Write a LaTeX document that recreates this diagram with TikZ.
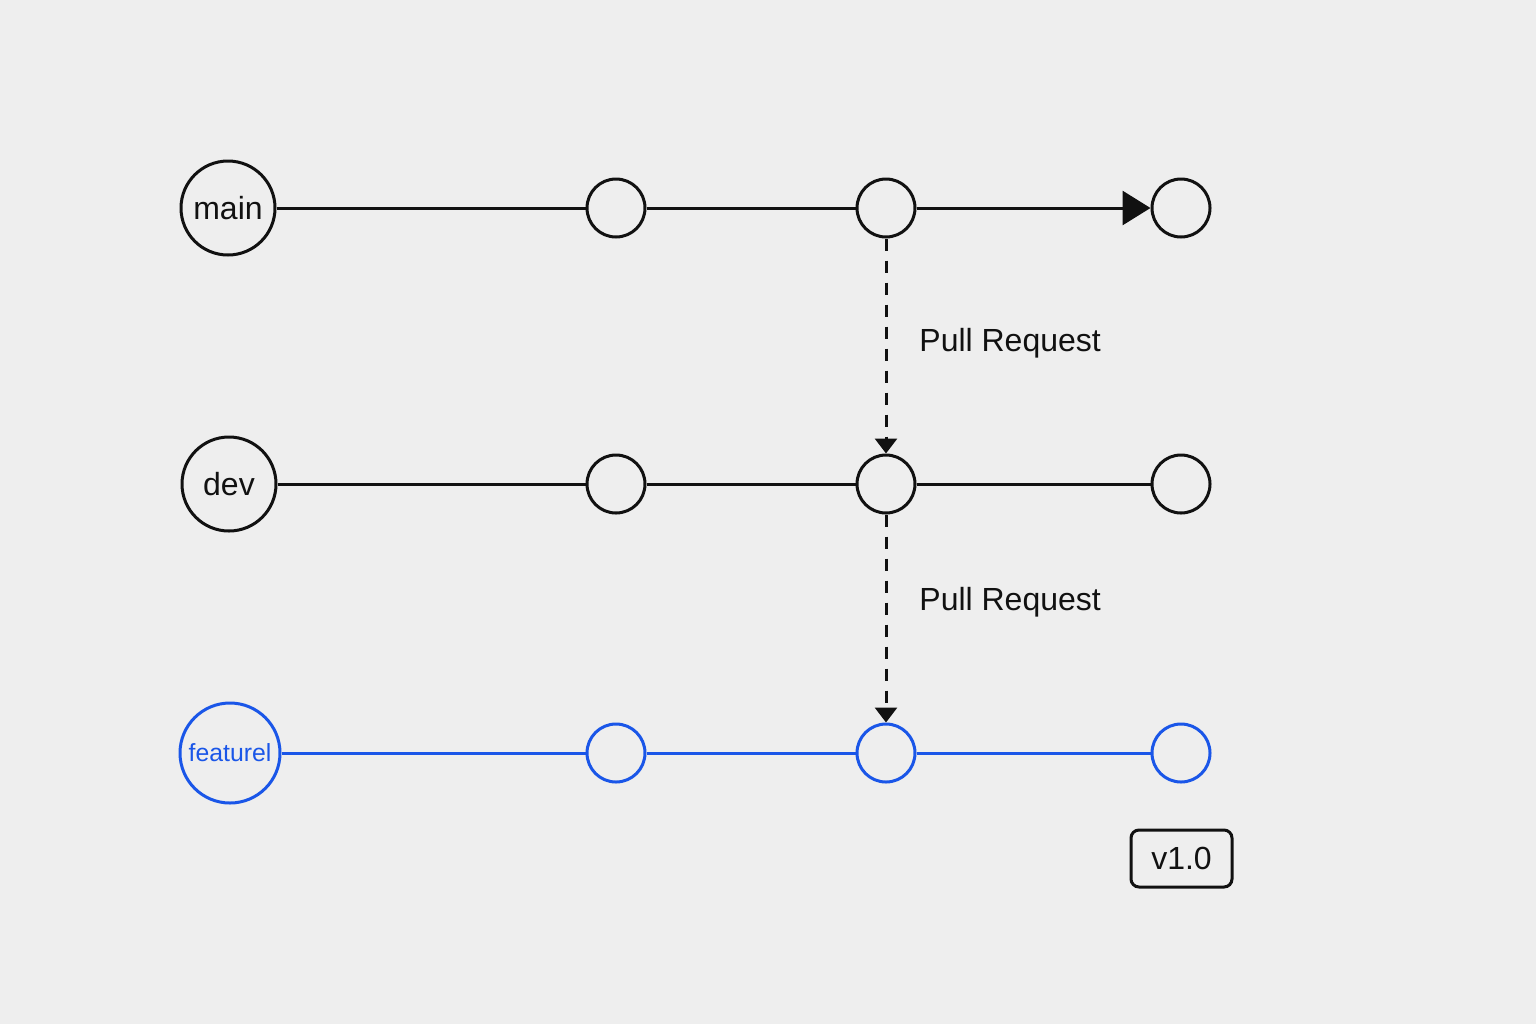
\documentclass[tikz,border=0pt]{standalone}
\usepackage{fontspec}
\setmainfont{Liberation Sans}
\usetikzlibrary{arrows.meta}
\definecolor{bg}{HTML}{EEEEEE}
\definecolor{fblue}{HTML}{1A56E8}
\definecolor{ink}{HTML}{111111}
\tikzset{
  branch/.style={circle,draw=ink,line width=1.5pt,fill=bg,inner sep=0pt,minimum size=47pt,font=\fontsize{16}{18}\selectfont,text=ink},
  commit/.style={circle,draw=ink,line width=1.5pt,fill=bg,inner sep=0pt,minimum size=29pt},
  fbranch/.style={branch,draw=fblue,text=fblue,minimum size=50pt,font=\fontsize{12.4}{14}\selectfont},
  fcommit/.style={commit,draw=fblue},
  link/.style={draw=ink,line width=1.5pt},
  flink/.style={draw=fblue,line width=1.5pt},
  pr/.style={draw=ink,line width=1.5pt,dash pattern=on 6pt off 5pt,-{Triangle[length=7.5pt,width=11pt]}},
  prlabel/.style={anchor=west,inner sep=0pt,font=\fontsize{16}{18}\selectfont,text=ink},
  tagbox/.style={draw=ink,line width=1.5pt,rounded corners=4pt,minimum width=50.5pt,minimum height=28.5pt,inner sep=0pt,font=\fontsize{16}{18}\selectfont,text=ink}
}
\begin{document}
\begin{tikzpicture}[x=0.5pt,y=-0.5pt]
\fill[bg] (0,0) rectangle (1536,1024);
\useasboundingbox (0,0) rectangle (1536,1024);
% main
\node[branch] (main) at (228,208) {main};
\node[commit] (m1) at (616,208) {};
\node[commit] (m2) at (886,208) {};
\node[commit] (m3) at (1181,208) {};
% dev
\node[branch] (dev) at (229,484) {dev};
\node[commit] (d1) at (616,484) {};
\node[commit] (d2) at (886,484) {};
\node[commit] (d3) at (1181,484) {};
% feature
\node[fbranch] (feat) at (230,753) {featurel};
\node[fcommit] (f1) at (616,753) {};
\node[fcommit] (f2) at (886,753) {};
\node[fcommit] (f3) at (1181,753) {};
% links
\draw[link] (main) -- (m1);
\draw[link] (m1) -- (m2);
\draw[link,-{Triangle[length=14pt,width=17pt]}] (m2) -- (m3);
\draw[link] (dev) -- (d1);
\draw[link] (d1) -- (d2);
\draw[link] (d2) -- (d3);
\draw[flink] (feat) -- (f1);
\draw[flink] (f1) -- (f2);
\draw[flink] (f2) -- (f3);
% pull requests
\draw[pr] (m2) -- (d2);
\draw[pr] (d2) -- (f2);
\node[prlabel] (pr1) at (919,343) {Pull Request};
\node[prlabel] (pr2) at (919,602) {Pull Request};
% tag
\node[tagbox] (tag) at (1181.5,858.5) {v1.0};
\end{tikzpicture}
\end{document}
